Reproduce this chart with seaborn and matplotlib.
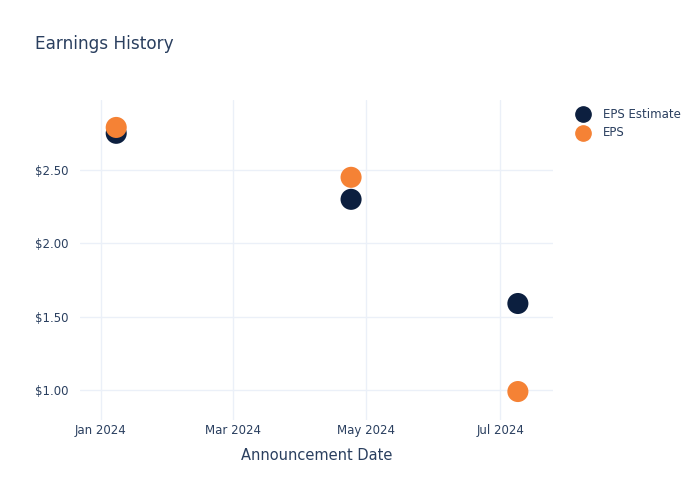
import matplotlib
matplotlib.use("Agg")
import matplotlib.pyplot as plt
import matplotlib.dates as mdates
import seaborn as sns
import pandas as pd
import numpy as np

dates = ["2024-01-08", "2024-04-24", "2024-07-09"]
eps_estimate = [2.75, 2.30, 1.59]
eps_actual = [2.79, 2.45, 0.99]
series_names = ["EPS Estimate", "EPS"]
colors = ["#0c1f3f", "#f58235"]

df = pd.DataFrame({
    "date": pd.to_datetime(dates * 2),
    "value": eps_estimate + eps_actual,
    "series": [series_names[0]] * 3 + [series_names[1]] * 3,
})

sns.set_style("white")
plt.rcParams["font.family"] = ["DejaVu Sans"]
text_color = "#2a3f5f"
grid_color = "#ebf0f8"

fig = plt.figure(figsize=(7, 5), dpi=100)
ax = fig.add_axes([80 / 700, 80 / 500, (553 - 80) / 700, (420 - 100) / 500])

sns.scatterplot(data=df, x="date", y="value", hue="series", palette=colors,
                hue_order=series_names, s=230, edgecolor="none", ax=ax,
                legend=False, zorder=3)

ax.set_xlim(pd.Timestamp("2023-12-22 12:00"), pd.Timestamp("2024-07-25"))
ax.set_ylim(0.796, 2.977)
ax.set_yticks([1.0, 1.5, 2.0, 2.5])
ax.yaxis.set_major_formatter(matplotlib.ticker.FuncFormatter(lambda v, p: f"${v:.2f}"))
ax.set_xticks(pd.to_datetime(["2024-01-01", "2024-03-01", "2024-05-01", "2024-07-01"]))
ax.xaxis.set_major_formatter(mdates.DateFormatter("%b %Y"))

for s in ax.spines.values():
    s.set_visible(False)
ax.grid(True, color=grid_color, linewidth=1, zorder=0)
ax.set_axisbelow(True)
ax.tick_params(axis="both", length=0, labelsize=8.5, colors=text_color)
ax.tick_params(axis="x", pad=3)
ax.tick_params(axis="y", pad=8)
ax.set_xlabel("Announcement Date", fontsize=10.5, color=text_color, labelpad=8)
ax.set_ylabel("")

fig.text(35 / 700, 1 - 44 / 500, "Earnings History", fontsize=12.2, color=text_color,
         va="center", ha="left")

for i, name in enumerate(series_names):
    y = 1 - (114 + 19 * i) / 500
    fig.add_artist(matplotlib.lines.Line2D([583 / 700], [y], marker="o", markersize=11,
                                           color=colors[i], linestyle="none",
                                           transform=fig.transFigure))
    fig.text(603 / 700, y, name, fontsize=8.5, color=text_color, va="center", ha="left")

fig.savefig("out.png", dpi=100)
